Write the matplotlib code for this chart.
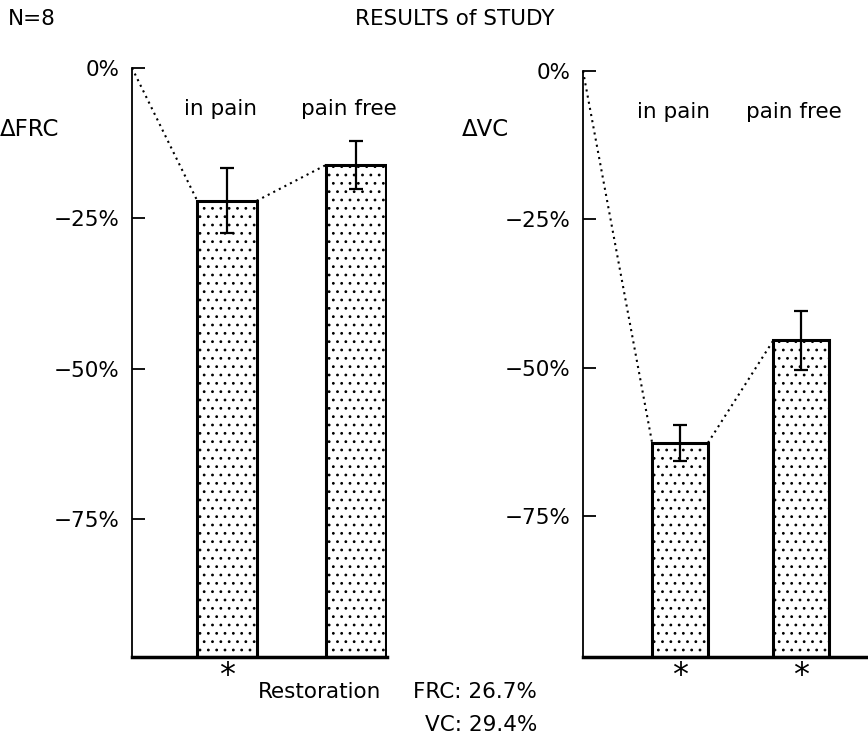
import matplotlib
matplotlib.use('Agg')
import matplotlib.pyplot as plt

plt.rcParams['font.family'] = ['DejaVu Sans']
plt.rcParams['hatch.linewidth'] = 0.8

# ----------------------------
# data (percent change from baseline)
# ----------------------------
groups = ['in pain', 'pain free']
frc_change = [-22.1, -16.1]
frc_err = [5.4, 4.0]
frc_signif = [True, False]
vc_change = [-62.7, -45.4]
vc_err = [3.0, 5.0]
vc_signif = [True, True]
y_ticks = [0, -25, -50, -75]
y_ticklabels = ['0%', '\u221225%', '\u221250%', '\u221275%']
restoration_frc = 26.7
restoration_vc = 29.4

W, H = 868, 741
FS = 15.5
fig = plt.figure(figsize=(W / 100, H / 100), dpi=100)


def px_axes(x0, y0, x1, y1):
    # axes placed by pixel box (top-left origin)
    return fig.add_axes([x0 / W, 1 - y1 / H, (x1 - x0) / W, (y1 - y0) / H])


def panel(ax, values, errs, signif, xlim, ylim):
    xs = list(range(len(values)))
    w = 0.46
    base = ylim[0]
    ax.bar(xs, [v - base for v in values], bottom=base, width=w,
           color='white', edgecolor='black', linewidth=2.2, hatch='..', zorder=2)
    ax.errorbar(xs, values, yerr=errs, fmt='none', ecolor='black',
                elinewidth=1.6, capsize=5, capthick=1.6, zorder=3)

    # dotted connectors: origin -> first bar, first bar -> second bar
    ax.plot([xlim[0], xs[0] - w / 2], [0, values[0]], color='black',
            lw=1.5, ls=(0, (1, 2)), clip_on=False, zorder=1)
    ax.plot([xs[0] + w / 2, xs[1] - w / 2], [values[0], values[1]],
            color='black', lw=1.5, ls=(0, (1, 2)), clip_on=False, zorder=1)

    for x, g, s in zip(xs, groups, signif):
        ax.annotate(g, xy=(x, 0.93), xycoords=ax.get_xaxis_transform(),
                    xytext=(-5, 0), textcoords='offset points',
                    ha='center', va='center', fontsize=FS)
        if s:
            ax.annotate('*', xy=(x, base), xytext=(0, -2),
                        textcoords='offset points', ha='center', va='top',
                        fontsize=23)

    ax.set_xlim(xlim)
    ax.set_ylim(ylim)
    ax.set_xticks([])
    ax.set_yticks(y_ticks)
    ax.set_yticklabels(y_ticklabels)
    ax.tick_params(axis='y', direction='in', length=9, width=1.3,
                   pad=9, labelsize=FS)
    for side in ['top', 'right']:
        ax.spines[side].set_visible(False)
    ax.spines['left'].set_linewidth(1.3)
    ax.spines['bottom'].set_linewidth(2.5)


ax1 = px_axes(132, 68, 387, 657)
panel(ax1, frc_change, frc_err, frc_signif, (-0.736, 1.24), (-98, 0))

ax2 = px_axes(583, 71, 868, 657)
panel(ax2, vc_change, vc_err, vc_signif, (-0.8, 1.55), (-98.8, 0))


def ftext(x, y, s, size=FS, **kw):
    fig.text(x / W, 1 - y / H, s, fontsize=size, va='center', **kw)


ftext(8, 19, 'N=8', ha='left')
ftext(455, 19, 'RESULTS of STUDY', ha='center')
ftext(0, 130, '\u0394FRC', size=16.5, ha='left')
ftext(462, 130, '\u0394VC', size=16.5, ha='left')
ftext(258, 692, 'Restoration', ha='left')
ftext(537, 692, f'FRC: {restoration_frc}%', ha='right')
ftext(537, 725, f'VC: {restoration_vc}%', ha='right')

fig.savefig('out.png', dpi=100)
